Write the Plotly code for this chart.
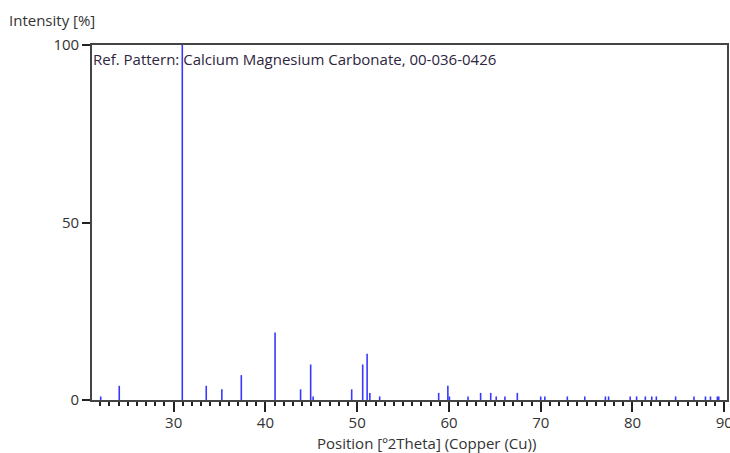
import plotly.graph_objects as go

# Reference stick pattern: Calcium Magnesium Carbonate (dolomite), 00-036-0426
positions = [22.05, 24.07, 30.94, 33.55, 35.25, 37.37, 41.05, 43.83, 44.93, 45.2,
             49.4, 50.6, 51.08, 51.38, 52.45, 58.88, 59.88, 60.05, 62.08, 63.45,
             64.55, 65.15, 66.1, 67.45, 70.0, 70.45, 72.9, 74.8, 77.05, 77.4,
             79.75, 80.45, 81.4, 82.1, 82.6, 84.7, 86.7, 87.95, 88.5, 89.25, 89.4]
intensities = [1, 4, 100, 4, 3, 7, 19, 3, 10, 1,
               3, 10, 13, 2, 1, 2, 4, 1, 1, 2,
               2, 1, 1, 2, 1, 1, 1, 1, 1, 1,
               1, 1, 1, 1, 1, 1, 1, 1, 1, 1, 1]

x_ticks = [30, 40, 50, 60, 70, 80, 90]
y_ticks = [0, 50, 100]

# Build one polyline of vertical sticks, each from 0 up to its intensity
xs, ys = [], []
for p, i in zip(positions, intensities):
    xs += [p, p, None]
    ys += [0, i, None]

font = "Open Sans"
fsize = 15
text_color = "#333333"

fig = go.Figure()
fig.add_trace(go.Scatter(
    x=xs, y=ys, mode="lines",
    line=dict(color="#3838ff", width=1.6),
    hoverinfo="skip", showlegend=False,
))

fig.update_layout(
    width=730, height=453,
    margin=dict(l=92, r=3, t=45, b=53, autoexpand=False),
    plot_bgcolor="white", paper_bgcolor="white",
    font=dict(family=font, size=fsize, color=text_color),
    xaxis=dict(
        range=[21.1, 90.3], tickvals=x_ticks, automargin=False,
        ticks="outside", ticklen=10, tickwidth=1.5, tickcolor="#222",
        ticklabelstandoff=-2, ticklabeloverflow="allow",
        minor=dict(dtick=1, ticks="outside", ticklen=4, tickwidth=1.5, tickcolor="#222"),
        showline=True, linecolor="#444", linewidth=1.6, mirror=True,
        showgrid=False, zeroline=False,
        tickfont=dict(family=font, size=fsize, color=text_color),
    ),
    yaxis=dict(
        range=[0, 100], tickvals=y_ticks, automargin=False,
        ticks="outside", ticklen=8, tickwidth=1.5, tickcolor="#222",
        showline=True, linecolor="#444", linewidth=1.6, mirror=True,
        showgrid=False, zeroline=False,
        tickfont=dict(family=font, size=fsize, color=text_color),
    ),
    annotations=[
        dict(text="Intensity [%]", xref="paper", yref="paper",
             x=-92 / 635, y=1 + 25 / 355, xshift=7,
             showarrow=False, xanchor="left", yanchor="middle",
             font=dict(family=font, size=fsize, color=text_color)),
        dict(text="Position [º2Theta] (Copper (Cu))", xref="paper", yref="paper",
             x=(426 - 92) / 635, y=-43 / 355,
             showarrow=False, xanchor="center", yanchor="middle",
             font=dict(family=font, size=fsize, color=text_color)),
        dict(text="Ref. Pattern: Calcium Magnesium Carbonate, 00-036-0426",
             x=21.1, y=96, xref="x", yref="y", showarrow=False, xshift=-1,
             xanchor="left", yanchor="middle",
             font=dict(family=font, size=fsize, color="#2e2540")),
    ],
)

fig.write_html("out.html")
